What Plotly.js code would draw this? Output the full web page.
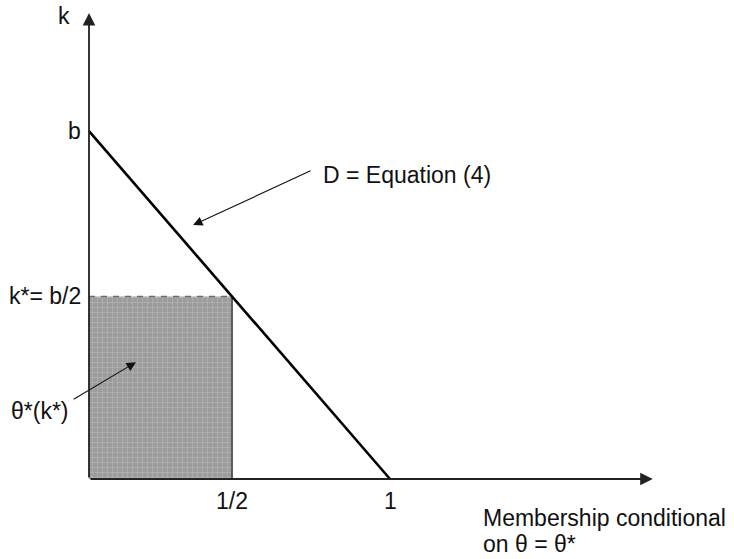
<!DOCTYPE html>
<html>
<head>
<meta charset="utf-8">
<script src="https://cdn.plot.ly/plotly-3.0.1.min.js"></script>
<style>
  html, body { margin: 0; padding: 0; background: #fff; }
  #chart { width: 734px; height: 559px; }
</style>
</head>
<body>
<div id="chart"></div>
<script>
// ---- data (b normalised to 1, membership 1 = full) ----
const demandX = [0, 1];          // demand line D: from k = b at 0 to k = 0 at 1
const demandY = [1, 0];
const equilX = 0.475;            // membership at k* ("1/2")
const equilK = 0.525;            // k* = b/2
const xAxisEnd = 1.873;
const yAxisEnd = 1.34;
const xTickVals = [0.475, 1];
const xTickText = ['1/2', '1'];
const yTickVals = [1, 0.525];
const yTickText = ['b', 'k*= b/2'];

const FONT = 'Liberation Sans, Arial, Helvetica, sans-serif';
const TXT = '#111';

const traces = [
  { // shaded area theta*(k*)
    x: [0, equilX, equilX, 0, 0],
    y: [0, 0, equilK, equilK, 0],
    mode: 'lines', fill: 'toself',
    fillcolor: '#a1a1a1',
    fillpattern: { shape: '+', bgcolor: '#9c9c9c', fgcolor: '#b4b4b4', size: 5, solidity: 0.25 },
    line: { width: 0, color: 'rgba(0,0,0,0)' }
  },
  { // right edge of area
    x: [equilX, equilX], y: [0, equilK],
    mode: 'lines', line: { color: '#5a5a5a', width: 2 }
  },
  { // dashed top
    x: [0, equilX], y: [equilK, equilK],
    mode: 'lines', line: { color: '#6a6a6a', width: 1.5, dash: '6px,6px' }
  },
  { // demand line D
    x: demandX, y: demandY,
    mode: 'lines', line: { color: '#000', width: 2.6 }
  }
];

const annotations = [];
function arrow(x, y, ax, ay, w, size, color) {
  annotations.push({
    x: x, y: y, ax: ax, ay: ay, xref: 'x', yref: 'y', axref: 'x', ayref: 'y',
    text: '', showarrow: true, arrowhead: 2, arrowsize: size, arrowwidth: w,
    arrowcolor: color, standoff: 0, startstandoff: 0
  });
}
// axes
arrow(xAxisEnd, 0, 0, 0, 1.8, 1.4, '#222');
arrow(0, yAxisEnd, 0, 0, 1.8, 1.4, '#222');
// pointer arrows
arrow(0.346, 0.730, 0.741, 0.888, 1.1, 1.7, '#111');
arrow(0.156, 0.336, -0.056, 0.227, 1.1, 1.7, '#111');

function label(text, x, y, xanchor) {
  annotations.push({
    x: x, y: y, xref: 'x', yref: 'y', text: text, showarrow: false,
    xanchor: xanchor || 'center', yanchor: 'middle',
    font: { family: FONT, size: 23, color: TXT }
  });
}
xTickVals.forEach((v, i) => label(xTickText[i], v, -0.062, 'center'));
yTickVals.forEach((v, i) => label(yTickText[i], -0.02, v, 'right'));
label('k', -0.083, 1.33, 'center');
label('θ*(k*)', -0.266, 0.196, 'left');
label('D = Equation (4)', 0.772, 0.874, 'left');
label('Membership conditional', 1.303, -0.112, 'left');
label('on θ = θ*', 1.303, -0.186, 'left');

const layout = {
  width: 734, height: 559,
  margin: { l: 0, r: 0, t: 0, b: 0, pad: 0 },
  paper_bgcolor: '#fff', plot_bgcolor: '#fff',
  showlegend: false, hovermode: false,
  xaxis: { range: [-0.2957, 2.1429], showgrid: false, zeroline: false, showline: false, showticklabels: false, ticks: '', fixedrange: true },
  yaxis: { range: [-0.230, 1.3772], showgrid: false, zeroline: false, showline: false, showticklabels: false, ticks: '', fixedrange: true },
  annotations: annotations
};

Plotly.newPlot('chart', traces, layout, { displayModeBar: false, staticPlot: true });
</script>
</body>
</html>
